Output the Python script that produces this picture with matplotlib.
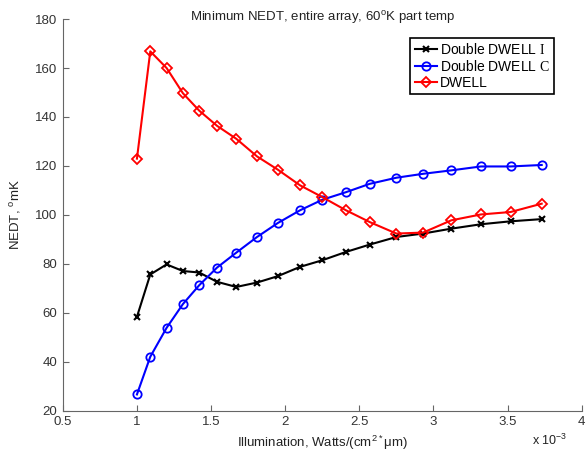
import matplotlib
matplotlib.use('Agg')
import matplotlib.pyplot as plt

plt.rcParams['font.family'] = ['Liberation Sans', 'DejaVu Sans']
plt.rcParams['mathtext.fontset'] = 'custom'
plt.rcParams['mathtext.rm'] = 'Liberation Serif'
plt.rcParams['mathtext.default'] = 'regular'

# illumination in units of 1e-3 W/(cm^2*um)
illum = [1.0, 1.09, 1.2, 1.31, 1.42, 1.54, 1.67, 1.81, 1.95, 2.1,
         2.25, 2.41, 2.57, 2.75, 2.93, 3.12, 3.32, 3.52, 3.73]

nedt_ddwell_i = [58.4, 75.7, 79.8, 77.1, 76.5, 72.7, 70.6, 72.4, 75.0, 78.8,
                 81.5, 84.9, 87.9, 91.0, 92.4, 94.4, 96.2, 97.4, 98.3]
nedt_ddwell_c = [26.7, 42.1, 53.9, 63.6, 71.3, 78.5, 84.6, 91.0, 96.7, 101.9,
                 106.2, 109.3, 112.7, 115.2, 116.8, 118.2, 119.8, 119.8, 120.4]
nedt_dwell = [123.0, 166.8, 160.0, 149.7, 142.6, 136.4, 131.1, 123.9, 118.5, 112.1,
              107.3, 101.9, 97.1, 92.4, 92.8, 97.8, 100.2, 101.2, 104.6]

labels = ['Double DWELL $\\mathrm{I}$', 'Double DWELL $\\mathrm{C}$', 'DWELL']

fig, ax = plt.subplots(figsize=(5.87, 4.53), dpi=100)
fig.subplots_adjust(left=0.107, right=0.991, bottom=0.093, top=0.958)

ax.plot(illum, nedt_ddwell_i, color='black', marker='x', markersize=4,
        markeredgewidth=1.5, linewidth=1.5, label=labels[0])
ax.plot(illum, nedt_ddwell_c, color='blue', marker='o', markersize=6,
        fillstyle='none', markeredgewidth=1.3, linewidth=1.5, label=labels[1])
ax.plot(illum, nedt_dwell, color='red', marker='D', markersize=5,
        fillstyle='none', markeredgewidth=1.3, linewidth=1.5, label=labels[2])

ax.set_xlim(0.5, 4)
ax.set_ylim(20, 180)
ax.set_xticks([0.5, 1, 1.5, 2, 2.5, 3, 3.5, 4])
ax.set_xticklabels(['0.5', '1', '1.5', '2', '2.5', '3', '3.5', '4'])
ax.set_yticks(range(20, 181, 20))

for side in ['top', 'right']:
    ax.spines[side].set_visible(False)
for side in ['left', 'bottom']:
    ax.spines[side].set_color('#666666')
    ax.spines[side].set_linewidth(0.8)
ax.tick_params(direction='in', length=4, width=0.8, color='#666666',
               labelsize=9.5, labelcolor='#333333', pad=4)

ax.text(0.5, 1.003, 'Minimum NEDT, entire array, 60$^{o}$K part temp',
        transform=ax.transAxes, ha='center', va='center', fontsize=9.5, color='#222222')
ax.set_ylabel('NEDT, $^{o}$mK', fontsize=9.5, color='#222222', labelpad=9)
ax.set_xlabel('Illumination, Watts/(cm$^{2*}$\u03bcm)', fontsize=9.5,
              color='#222222', labelpad=4)
ax.text(0.905, -0.075, 'x 10$^{-3}$', transform=ax.transAxes, fontsize=9,
        color='#222222', ha='left', va='center')

leg = ax.legend(loc='upper right', bbox_to_anchor=(0.946, 0.952), borderaxespad=0,
                fontsize=10, fancybox=False, handlelength=1.6, handletextpad=0.2,
                borderpad=0.3, labelspacing=0.15, framealpha=1)
leg.get_frame().set_edgecolor('black')
leg.get_frame().set_linewidth(1.2)

plt.savefig('out.png', dpi=100)
